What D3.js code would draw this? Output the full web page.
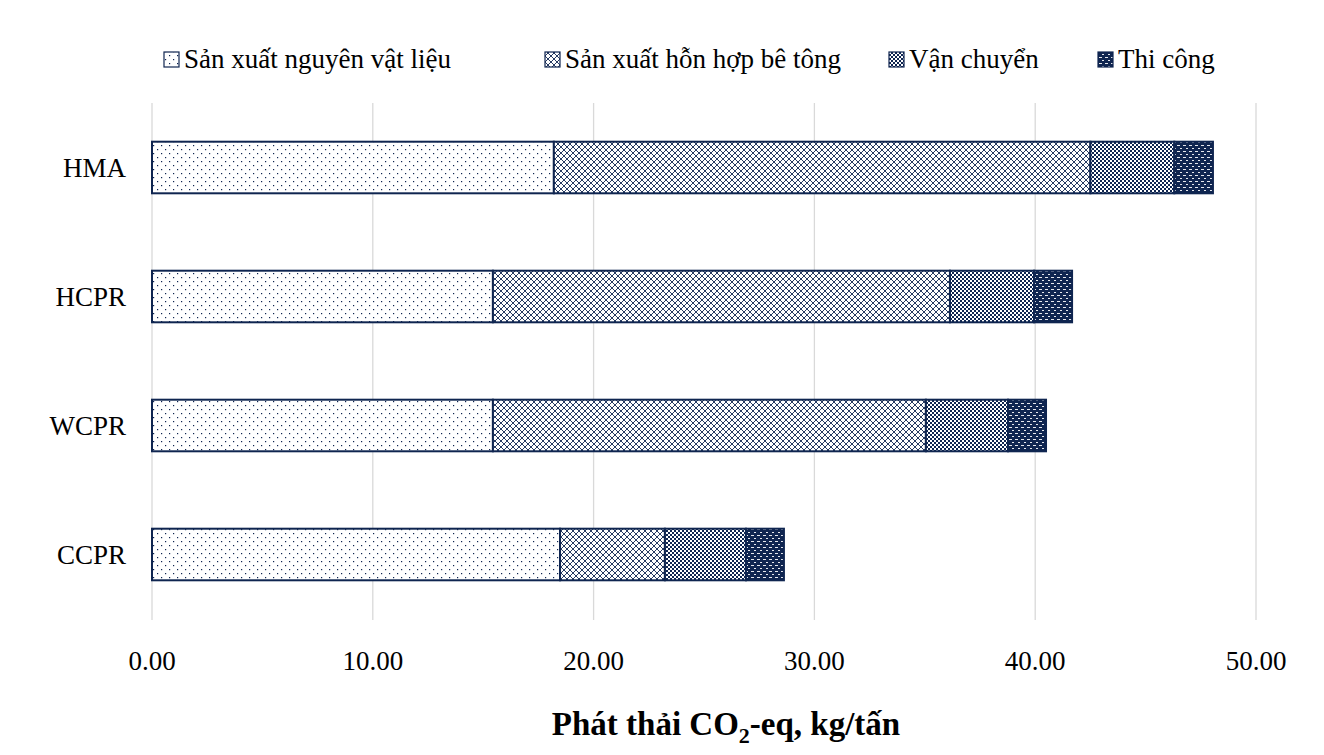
<!DOCTYPE html>
<html><head><meta charset="utf-8">
<script src="https://cdn.jsdelivr.net/npm/d3@7"></script>
<style>body{margin:0;background:#fff}</style>
</head><body>
<script>
const categories = ["HMA", "HCPR", "WCPR", "CCPR"];
const seriesNames = ["Sản xuất nguyên vật liệu", "Sản xuất hỗn hợp bê tông", "Vận chuyển", "Thi công"];
const material = [18.2, 15.44, 15.44, 18.48];
const mixing = [24.3, 20.7, 19.61, 4.75];
const transport = [3.8, 3.81, 3.72, 3.67];
const construction = [1.75, 1.72, 1.72, 1.72];
const ticks = [0, 10, 20, 30, 40, 50];

const width = 1324, height = 755;
const ink = "#0f2550";
const svg = d3.select("body").append("svg").attr("width", width).attr("height", height)
  .style("font-family", "'Liberation Serif','Times New Roman',serif");

// fill patterns
const defs = svg.append("defs");
function pat(id, size, draw) {
  const p = defs.append("pattern").attr("id", id).attr("patternUnits", "userSpaceOnUse")
    .attr("width", size).attr("height", size);
  draw(p);
}
pat("p0", 8, p => {
  p.append("rect").attr("width", 8).attr("height", 8).attr("fill", "#fff");
  p.append("rect").attr("x", 1).attr("y", 1).attr("width", 1.2).attr("height", 1.2).attr("fill", ink);
  p.append("rect").attr("x", 5).attr("y", 5).attr("width", 1.2).attr("height", 1.2).attr("fill", ink);
});
pat("p1", 6, p => {
  p.append("rect").attr("width", 6).attr("height", 6).attr("fill", "#fff");
  p.append("path").attr("d", "M0,0L6,6M6,0L0,6").attr("stroke", ink).attr("stroke-width", 0.9);
});
pat("p2", 4, p => {
  p.append("rect").attr("width", 4).attr("height", 4).attr("fill", "#fff");
  p.append("rect").attr("x", 0).attr("y", 0).attr("width", 2).attr("height", 2).attr("fill", ink);
  p.append("rect").attr("x", 2).attr("y", 2).attr("width", 2).attr("height", 2).attr("fill", ink);
});
pat("p3", 6, p => {
  p.append("rect").attr("width", 6).attr("height", 6).attr("fill", ink);
  p.append("rect").attr("x", 1).attr("y", 1).attr("width", 3).attr("height", 0.9).attr("fill", "#fff");
  p.append("rect").attr("x", 4).attr("y", 4).attr("width", 3).attr("height", 0.9).attr("fill", "#fff");
});
const fills = ["url(#p0)", "url(#p1)", "url(#p2)", "url(#p3)"];

const x = d3.scaleLinear().domain([0, 50]).range([152, 1256]);
const y = d3.scaleBand().domain(categories).range([103, 619]).paddingInner(0.6).paddingOuter(0.3);

// grid
svg.append("g").selectAll("line").data(ticks).join("line")
  .attr("x1", d => x(d)).attr("x2", d => x(d)).attr("y1", 103).attr("y2", 620)
  .attr("stroke", "#d9d9d9").attr("stroke-width", 1.3);

const rows = categories.map((c, i) => ({ cat: c, vals: [material[i], mixing[i], transport[i], construction[i]] }));
const stackData = rows.map(r => Object.fromEntries([["cat", r.cat], ...r.vals.map((v, j) => [j, v])]));
const stacked = d3.stack().keys([0, 1, 2, 3])(stackData);

svg.append("g").selectAll("g").data(stacked).join("g")
  .attr("fill", (d, i) => fills[i])
  .selectAll("rect").data(d => d).join("rect")
  .attr("x", d => x(d[0])).attr("width", d => x(d[1]) - x(d[0]))
  .attr("y", d => y(d.data.cat)).attr("height", y.bandwidth())
  .attr("stroke", ink).attr("stroke-width", 2);

// category labels
svg.append("g").selectAll("text").data(categories).join("text")
  .attr("x", 126).attr("y", d => y(d) + y.bandwidth() / 2).attr("dy", "0.35em")
  .attr("text-anchor", "end").attr("font-size", 27).attr("fill", "#000").text(d => d);

// x tick labels
svg.append("g").selectAll("text").data(ticks).join("text")
  .attr("x", d => x(d)).attr("y", 670).attr("text-anchor", "middle")
  .attr("font-size", 27).attr("fill", "#000").text(d => d.toFixed(2));

// axis title
const t = svg.append("text").attr("x", 726).attr("y", 735).attr("text-anchor", "middle")
  .attr("font-size", 33).attr("font-weight", "bold");
t.append("tspan").text("Phát thải CO");
t.append("tspan").attr("font-size", 22).attr("dy", 8).text("2");
t.append("tspan").attr("dy", -8).text("-eq, kg/tấn");

// legend
const legX = [164, 545, 889, 1098];
const lg = svg.append("g").selectAll("g").data(seriesNames).join("g")
  .attr("transform", (d, i) => `translate(${legX[i]},50)`);
lg.append("rect").attr("width", 15).attr("height", 15).attr("y", 2)
  .attr("fill", (d, i) => fills[i]).attr("stroke", ink).attr("stroke-width", 1.2);
lg.append("text").attr("x", 20).attr("y", 18).attr("font-size", 27).text(d => d);
</script>
</body></html>
